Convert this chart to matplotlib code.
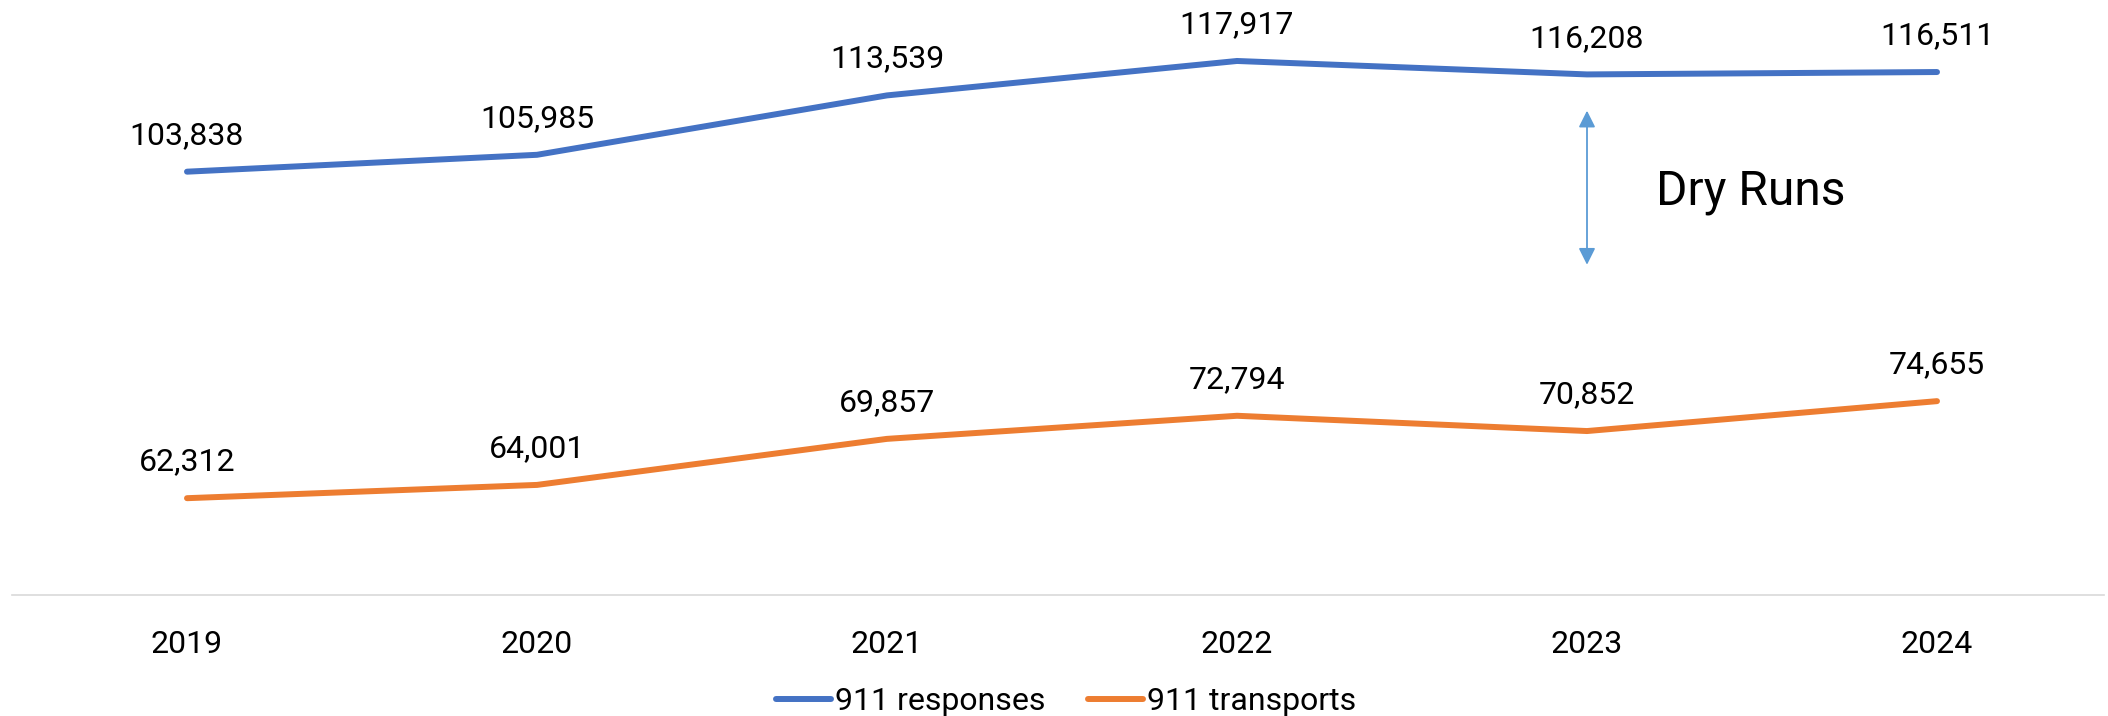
import matplotlib
matplotlib.use("Agg")
import matplotlib.pyplot as plt

years = ["2019", "2020", "2021", "2022", "2023", "2024"]
responses = [103838, 105985, 113539, 117917, 116208, 116511]
transports = [62312, 64001, 69857, 72794, 70852, 74655]
series_names = ["911 responses", "911 transports"]
series_colors = ["#4472C4", "#ED7D31"]
dry_runs_year = 4  # index of 2023

plt.rcParams["font.family"] = ["Roboto", "DejaVu Sans"]

W, H = 2108, 716
fig = plt.figure(figsize=(W / 100, H / 100), dpi=100)
ax = fig.add_axes([12 / W, 1 - 595 / H, 2092 / W, 550.4 / H])

x = list(range(len(years)))
for vals, name, color in zip([responses, transports], series_names, series_colors):
    ax.plot(x, vals, color=color, lw=4.3, solid_capstyle="round", label=name)
    for xi, v in zip(x, vals):
        ax.annotate(f"{v:,}", (xi, v), xytext=(0, 20), textcoords="offset points",
                    ha="center", va="baseline", fontsize=23, color="black")

ax.set_xlim(-0.5, -0.5 + 2092 / 350)
ax.set_ylim(50000, 120000)
ax.set_xticks(x)
ax.set_xticklabels(years, fontsize=23)
ax.tick_params(axis="x", length=0, pad=25)
ax.set_yticks([])
for side in ["top", "right", "left"]:
    ax.spines[side].set_visible(False)
ax.spines["bottom"].set_color("#D9D9D9")
ax.spines["bottom"].set_linewidth(1.2)

# dry runs gap marker
ax.annotate("", xy=(dry_runs_year, 111600), xytext=(dry_runs_year, 92000),
            arrowprops=dict(arrowstyle="<|-|>", color="#5B9BD5", lw=1.3,
                            mutation_scale=25, shrinkA=0, shrinkB=0))
fig.text(1656 / W, 1 - 192 / H, "Dry Runs", fontsize=34.5, ha="left", va="center")

fig.legend(loc="center", bbox_to_anchor=(1066 / W, 1 - 702 / H), ncol=2, frameon=False,
           fontsize=23, handlelength=1.72, handletextpad=0.12, columnspacing=1.34,
           borderpad=0, borderaxespad=0)

fig.savefig("out.png", dpi=100)
